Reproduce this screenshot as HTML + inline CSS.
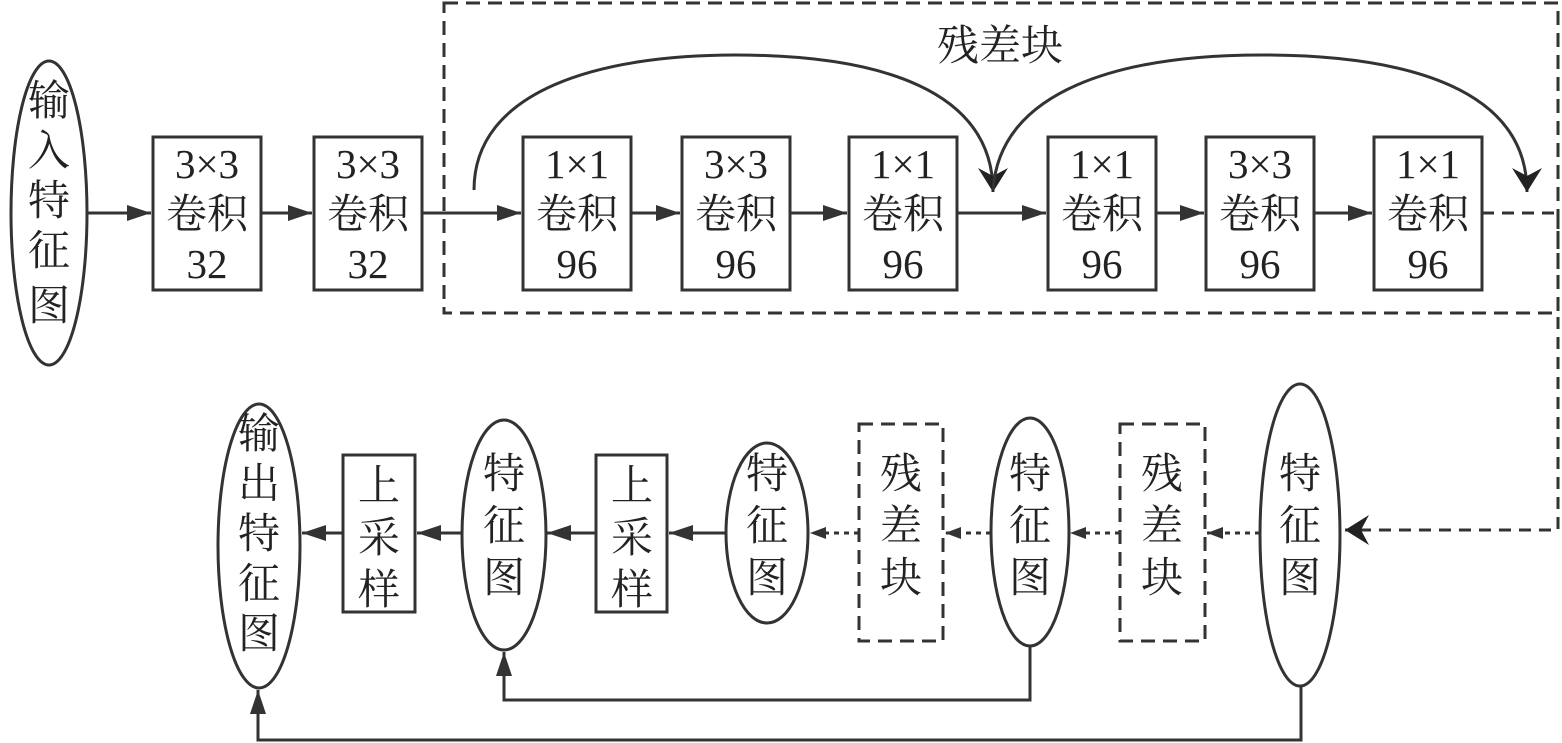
<!DOCTYPE html>
<html><head><meta charset="utf-8"><style>html,body{margin:0;padding:0;background:#fff}svg{display:block}text{font-family:"Liberation Serif","Noto Serif CJK SC",serif;fill:#222}</style></head><body>
<svg width="1562" height="743" viewBox="0 0 1562 743" xmlns="http://www.w3.org/2000/svg">
<defs>
<marker id="a" markerWidth="10" markerHeight="10" refX="9" refY="5" orient="auto" markerUnits="userSpaceOnUse" viewBox="0 0 10 10"><path d="M0,0 L10,5 L0,10z" fill="#333"/></marker>
<marker id="b" markerWidth="26" markerHeight="20" refX="24" refY="10" orient="auto" markerUnits="userSpaceOnUse"><path d="M0,2 L24,10 L0,18z" fill="#333"/></marker>
<marker id="c" markerWidth="26" markerHeight="30" refX="24" refY="15" orient="auto" markerUnits="userSpaceOnUse"><path d="M0,0 L24,15 L0,30 L8,15z" fill="#222"/></marker>
<marker id="s" markerWidth="18" markerHeight="14" refX="16" refY="7" orient="auto" markerUnits="userSpaceOnUse"><path d="M0,1 L16,7 L0,13z" fill="#333"/></marker>
</defs>
<g stroke="#333" stroke-width="3" fill="none">
<rect x="444" y="3" width="1114" height="310" stroke-dasharray="14,8"/>
<ellipse cx="49" cy="213" rx="38" ry="152"/>
<rect x="153" y="137" width="108" height="153"/>
<rect x="314" y="137" width="108" height="153"/>
<rect x="523" y="137" width="108" height="153"/>
<rect x="682" y="137" width="108" height="153"/>
<rect x="849" y="137" width="108" height="153"/>
<rect x="1048" y="137" width="108" height="153"/>
<rect x="1206" y="137" width="108" height="153"/>
<rect x="1374" y="137" width="108" height="153"/>
<line x1="88" y1="213" x2="151" y2="213" marker-end="url(#b)"/>
<line x1="261" y1="213" x2="312" y2="213" marker-end="url(#b)"/>
<line x1="422" y1="213" x2="521" y2="213" marker-end="url(#b)"/>
<line x1="631" y1="213" x2="680" y2="213" marker-end="url(#b)"/>
<line x1="790" y1="213" x2="847" y2="213" marker-end="url(#b)"/>
<line x1="957" y1="213" x2="1046" y2="213" marker-end="url(#b)"/>
<line x1="1156" y1="213" x2="1204" y2="213" marker-end="url(#b)"/>
<line x1="1314" y1="213" x2="1372" y2="213" marker-end="url(#b)"/>
<path d="M474,190 C474,90 600,55 735,55 C880,55 993,90 993,192" marker-end="url(#c)"/>
<path d="M993,190 C1000,90 1120,55 1262,55 C1410,55 1527,90 1527,192" marker-end="url(#c)"/>
<path d="M1482,213 L1558,213 L1558,530 L1345,530" stroke-dasharray="12,8" marker-end="url(#c)"/>
<ellipse cx="259" cy="546" rx="41" ry="142"/>
<rect x="343" y="455" width="72" height="157"/>
<ellipse cx="504" cy="535" rx="42" ry="115"/>
<rect x="596" y="455" width="71" height="157"/>
<ellipse cx="767" cy="533" rx="41" ry="90"/>
<rect x="859" y="424" width="84" height="217" stroke-dasharray="14,8"/>
<ellipse cx="1030" cy="532" rx="39" ry="114"/>
<rect x="1120" y="424" width="85" height="217" stroke-dasharray="14,8"/>
<ellipse cx="1300" cy="535" rx="40" ry="151"/>
<line x1="725" y1="533" x2="669" y2="533" marker-end="url(#b)"/>
<line x1="596" y1="533" x2="547" y2="533" marker-end="url(#b)"/>
<line x1="462" y1="533" x2="417" y2="533" marker-end="url(#b)"/>
<line x1="343" y1="533" x2="302" y2="533" marker-end="url(#b)"/>
<line x1="859" y1="533" x2="810" y2="533" stroke-dasharray="5,5" marker-end="url(#s)"/>
<line x1="991" y1="533" x2="945" y2="533" stroke-dasharray="5,5" marker-end="url(#s)"/>
<line x1="1120" y1="533" x2="1070" y2="533" stroke-dasharray="5,5" marker-end="url(#s)"/>
<line x1="1260" y1="533" x2="1207" y2="533" stroke-dasharray="5,5" marker-end="url(#s)"/>
<path d="M1030,646 L1030,700 L504,700 L504,652" marker-end="url(#b)"/>
<path d="M1301,686 L1301,740 L258,740 L258,690" marker-end="url(#b)"/>
</g>
<g font-size="42" text-anchor="middle">
<text x="1000" y="60">残差块</text>
<text x="49" y="115">输</text><text x="49" y="165">入</text><text x="49" y="215">特</text><text x="49" y="265">征</text><text x="49" y="320">图</text>
<g font-size="41">
<text x="207" y="178">3×3</text><text x="207" y="228">卷积</text><text x="207" y="278">32</text>
<text x="368" y="178">3×3</text><text x="368" y="228">卷积</text><text x="368" y="278">32</text>
<text x="577" y="178">1×1</text><text x="577" y="228">卷积</text><text x="577" y="278">96</text>
<text x="736" y="178">3×3</text><text x="736" y="228">卷积</text><text x="736" y="278">96</text>
<text x="903" y="178">1×1</text><text x="903" y="228">卷积</text><text x="903" y="278">96</text>
<text x="1102" y="178">1×1</text><text x="1102" y="228">卷积</text><text x="1102" y="278">96</text>
<text x="1260" y="178">3×3</text><text x="1260" y="228">卷积</text><text x="1260" y="278">96</text>
<text x="1428" y="178">1×1</text><text x="1428" y="228">卷积</text><text x="1428" y="278">96</text>
</g>
<text x="259" y="448">输</text><text x="259" y="498">出</text><text x="259" y="548">特</text><text x="259" y="598">征</text><text x="259" y="648">图</text>
<text x="379" y="500">上</text><text x="379" y="552">采</text><text x="379" y="604">样</text>
<text x="504" y="488">特</text><text x="504" y="540">征</text><text x="504" y="592">图</text>
<text x="632" y="500">上</text><text x="632" y="552">采</text><text x="632" y="604">样</text>
<text x="767" y="488">特</text><text x="767" y="540">征</text><text x="767" y="592">图</text>
<text x="901" y="488">残</text><text x="901" y="540">差</text><text x="901" y="592">块</text>
<text x="1030" y="488">特</text><text x="1030" y="540">征</text><text x="1030" y="592">图</text>
<text x="1162" y="488">残</text><text x="1162" y="540">差</text><text x="1162" y="592">块</text>
<text x="1300" y="488">特</text><text x="1300" y="540">征</text><text x="1300" y="592">图</text>
</g>
</svg>
</body></html>
